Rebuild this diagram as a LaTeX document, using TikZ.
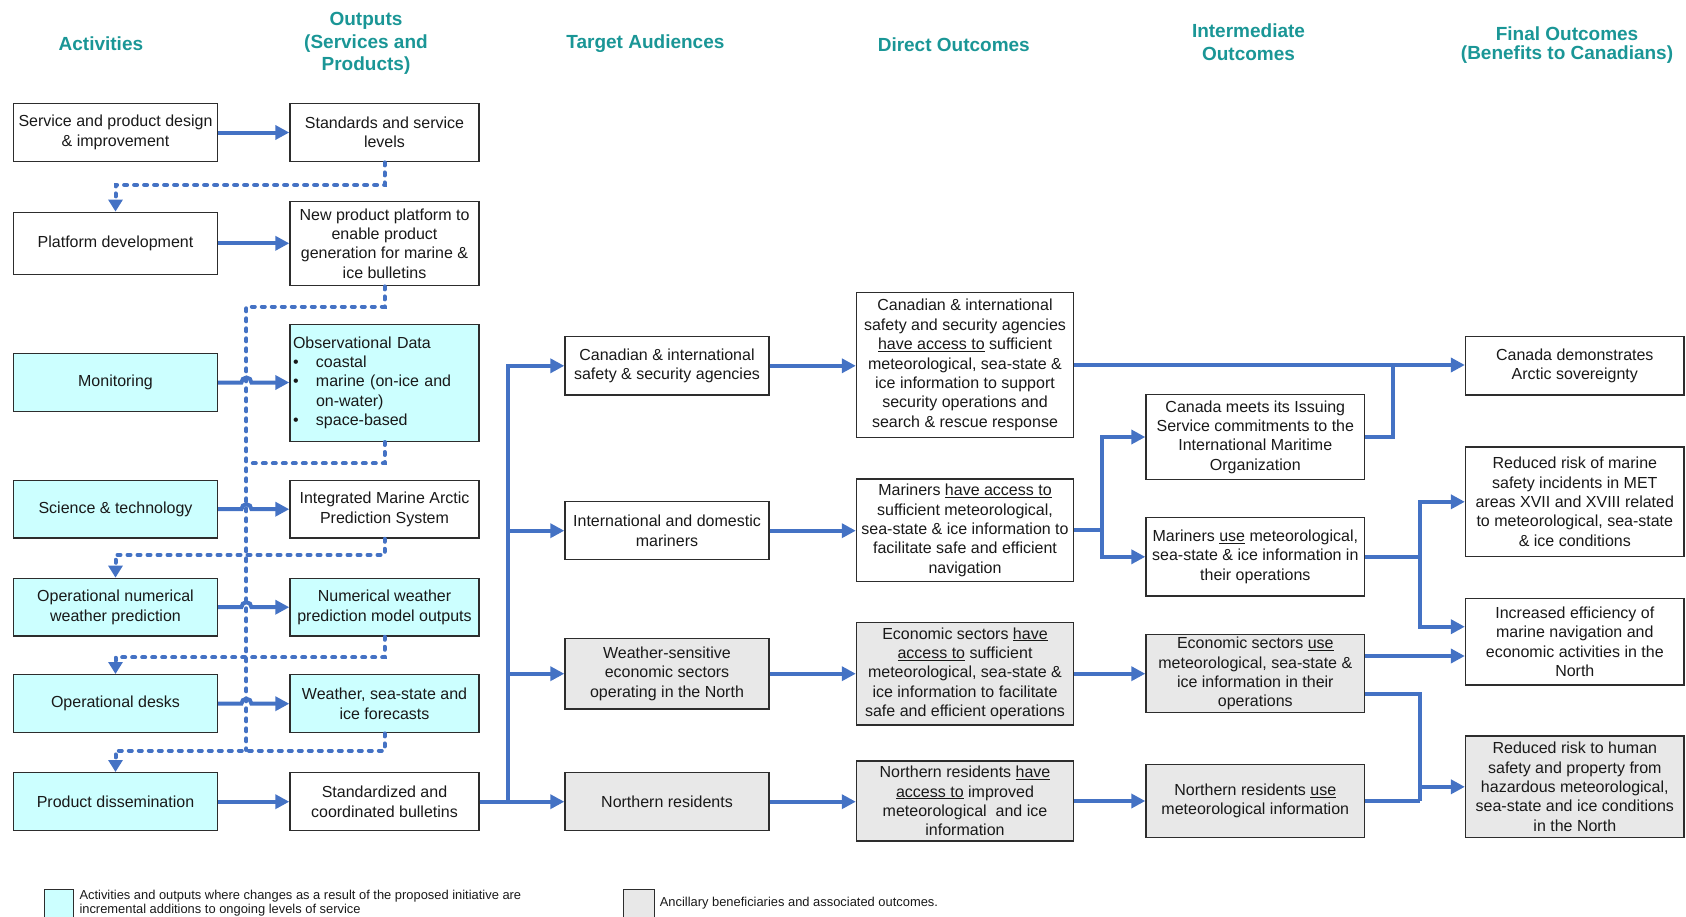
\documentclass[tikz,border=0pt]{standalone}
\usepackage{fontspec}
\setmainfont{Liberation Sans}
\usetikzlibrary{arrows.meta}
\definecolor{flowblue}{RGB}{68,114,196}
\definecolor{headteal}{RGB}{26,150,150}
\definecolor{newfill}{RGB}{204,255,255}
\definecolor{sidefill}{RGB}{232,232,232}
\definecolor{boxline}{RGB}{45,45,45}
\definecolor{bodytext}{RGB}{25,25,25}
\begin{document}
\begin{tikzpicture}[x=1pt,y=-1pt,
  box/.style={draw=boxline, line width=1.4pt, fill=white, text=bodytext, align=center,
    inner sep=2pt, font=\fontsize{16}{19.4}\selectfont},
  acol/.style={box, minimum width=204pt},
  ocol/.style={box, minimum width=189pt},
  tcol/.style={box, minimum width=204pt},
  dcol/.style={box, minimum width=217pt},
  icol/.style={box, minimum width=218.6pt},
  fcol/.style={box, minimum width=218.5pt},
  newwork/.style={fill=newfill},
  ancillary/.style={fill=sidefill},
  head/.style={text=headteal, align=center, font=\bfseries\fontsize{19}{22.6}\selectfont},
  flow/.style={draw=flowblue, line width=4pt, -{Triangle[length=14pt,width=14pt]}},
  flowline/.style={draw=flowblue, line width=4pt},
  dotline/.style={draw=flowblue, line width=4pt, dash pattern=on 3pt off 7pt, line cap=round},
  dotflow/.style={dotline, -{Triangle[length=12pt,width=14pt]}},
  keybox/.style={draw=boxline, line width=1.2pt, anchor=north west, inner sep=0pt},
  keytext/.style={text=bodytext, anchor=west, align=left, inner sep=2pt, font=\fontsize{12.9}{14.4}\selectfont}
]
\useasboundingbox (0,0) rectangle (1686,916);

% column headings
\node[head] (hact) at (100.9,43.3) {Activities};
\node[head] (hout) at (366,43.7) {Outputs\\(Services and\\Products)};
\node[head] (htar) at (645.4,43.3) {Target Audiences};
\node[head] (hdir) at (953.8,45) {Direct Outcomes};
\node[head] (hint) at (1248.5,42) {Intermediate\\Outcomes};
\node[head, font=\bfseries\fontsize{19}{19.4}\selectfont] (hfin) at (1567,45) {Final Outcomes\\(Benefits to Canadians)};

% activities
\node[acol, minimum height=58.4pt] (a1) at (115.5,132.5) {Service and product design\\\& improvement};
\node[acol, minimum height=62pt] (a2) at (115.5,243.3) {Platform development};
\node[acol, newwork, minimum height=58.4pt] (a3) at (115.5,382.5) {Monitoring};
\node[acol, newwork, minimum height=57.7pt] (a4) at (115.5,509.2) {Science \& technology};
\node[acol, newwork, minimum height=57.7pt] (a5) at (115.5,607.2) {Operational numerical\\weather prediction};
\node[acol, newwork, minimum height=58pt] (a6) at (115.5,703.7) {Operational desks};
\node[acol, newwork, minimum height=58pt] (a7) at (115.5,801.7) {Product dissemination};

% outputs
\node[ocol, minimum height=58.4pt] (o1) at (384.5,132.5) {Standards and service\\levels};
\node[ocol, minimum height=84.4pt] (o2) at (384.5,243.5) {New product platform to\\enable product\\generation for marine \&\\ice bulletins};
\node[ocol, newwork, minimum height=117pt, text width=183pt, inner xsep=3pt, align=left] (o3) at (384.5,382.8)
  {Observational Data\\
   \makebox[23pt][l]{\textbullet}coastal\\
   \makebox[23pt][l]{\textbullet}marine (on-ice and\\
   \hspace*{23pt}on-water)\\
   \makebox[23pt][l]{\textbullet}space-based};
\node[ocol, minimum height=57.7pt] (o4) at (384.5,509.2) {Integrated Marine Arctic\\Prediction System};
\node[ocol, newwork, minimum height=57.7pt] (o5) at (384.5,607.2) {Numerical weather\\prediction model outputs};
\node[ocol, newwork, minimum height=58pt] (o6) at (384.5,703.7) {Weather, sea-state and\\ice forecasts};
\node[ocol, minimum height=58pt] (o7) at (384.5,801.7) {Standardized and\\coordinated bulletins};

% target audiences
\node[tcol, minimum height=58.3pt] (t1) at (667,365.8) {Canadian \& international\\safety \& security agencies};
\node[tcol, minimum height=58pt] (t2) at (667,530.7) {International and domestic\\mariners};
\node[tcol, ancillary, minimum height=70.7pt] (t3) at (667,673.7) {Weather-sensitive\\economic sectors\\operating in the North};
\node[tcol, ancillary, minimum height=58pt] (t4) at (667,801.7) {Northern residents};

% direct outcomes
\node[dcol, minimum height=145.4pt] (d1) at (965,365) {Canadian \& international\\safety and security agencies\\\underline{have access to} sufficient\\meteorological, sea-state \&\\ice information to support\\security operations and\\search \& rescue response};
\node[dcol, minimum height=102.7pt] (d2) at (965,530.3) {Mariners \underline{have access to}\\sufficient meteorological,\\sea-state \& ice information to\\facilitate safe and efficient\\navigation};
\node[dcol, ancillary, minimum height=102.7pt] (d3) at (965,673.7) {Economic sectors \underline{have}\\\underline{access to} sufficient\\meteorological, sea-state \&\\ice information to facilitate\\safe and efficient operations};
\node[dcol, ancillary, minimum height=80pt] (d4) at (965,801) {Northern residents \underline{have}\\\underline{access to} improved\\meteorological\ \ and ice\\information};

% intermediate outcomes
\node[icol, minimum height=84.6pt] (i1) at (1255.3,437) {Canada meets its Issuing\\Service commitments to the\\International Maritime\\Organization};
\node[icol, minimum height=78.3pt] (i2) at (1255.3,556.8) {Mariners \underline{use} meteorological,\\sea-state \& ice information in\\their operations};
\node[icol, ancillary, minimum height=78pt] (i3) at (1255.3,673.7) {Economic sectors \underline{use}\\meteorological, sea-state \&\\ice information in their\\operations};
\node[icol, ancillary, minimum height=73.4pt] (i4) at (1255.3,801) {Northern residents \underline{use}\\meteorological information};

% final outcomes
\node[fcol, minimum height=58.3pt] (f1) at (1574.8,365.8) {Canada demonstrates\\Arctic sovereignty};
\node[fcol, minimum height=109.7pt] (f2) at (1574.8,501.8) {Reduced risk of marine\\safety incidents in MET\\areas XVII and XVIII related\\to meteorological, sea-state\\\& ice conditions};
\node[fcol, minimum height=86.7pt] (f3) at (1574.8,641.7) {Increased efficiency of\\marine navigation and\\economic activities in the\\North};
\node[fcol, ancillary, minimum height=101.7pt] (f4) at (1574.8,786.8) {Reduced risk to human\\safety and property from\\hazardous meteorological,\\sea-state and ice conditions\\in the North};

% feedback from outputs to the next activities (dotted)
\draw[dotflow] (o1.south) -- ++(0,22.6) -| (a2.north);
\draw[dotline] (o2.south) -- ++(0,20.3) -| (246.4,750);
\draw[dotline] (o3.south) |- (246.4,463.3);
\draw[dotflow] (o4.south) -- ++(0,16) -| (a5.north);
\draw[dotflow] (o5.south) -- ++(0,20.7) -| (a6.north);
\draw[dotflow] (o6.south) -- ++(0,17.3) -| (a7.north);

% activities to outputs (with hops over the dotted line)
\coordinate (hop) at (241.4,0);
\draw[flow] (a1.east) -- (a1.east -| o1.west);
\draw[flow] (a2.east) -- (a2.east -| o2.west);
\draw[flow] (a3.east) -- (a3.east -| hop) arc[start angle=180, end angle=0, radius=5pt] -- (a3.east -| o3.west);
\draw[flow] (a4.east) -- (a4.east -| hop) arc[start angle=180, end angle=0, radius=5pt] -- (a4.east -| o4.west);
\draw[flow] (a5.east) -- (a5.east -| hop) arc[start angle=180, end angle=0, radius=5pt] -- (a5.east -| o5.west);
\draw[flow] (a6.east) -- (a6.east -| hop) arc[start angle=180, end angle=0, radius=5pt] -- (a6.east -| o6.west);
\draw[flow] (a7.east) -- (a7.east -| o7.west);

% bulletins to the audiences
\coordinate (bus) at (508,801.7);
\draw[flow] (o7.east) -- (bus) |- (t1.west);
\draw[flow] (bus) |- (t2.west);
\draw[flow] (bus) |- (t3.west);
\draw[flow] (o7.east) -- (t4.west);

% audiences to direct outcomes
\draw[flow] (t1.east) -- (t1.east -| d1.west);
\draw[flow] (t2.east) -- (t2.east -| d2.west);
\draw[flow] (t3.east) -- (t3.east -| d3.west);
\draw[flow] (t4.east) -- (t4.east -| d4.west);

% direct to intermediate and final outcomes
\draw[flow] (d1.east) -- (d1.east -| f1.west);
\coordinate (k1) at (1393.4,365);
\draw[flowline] (i1.east) -| (k1);
\coordinate (k2) at (1102,530.3);
\draw[flowline] (d2.east) -- (k2);
\draw[flow] (k2) |- (i1.west);
\draw[flow] (k2) |- (i2.west);
\draw[flow] (d3.east) -- (d3.east -| i3.west);
\draw[flow] (d4.east) -- (d4.east -| i4.west);

% intermediate to final outcomes
\coordinate (k3) at (1420.3,556.8);
\coordinate (f3up) at ([yshift=15pt]f3.west);
\draw[flowline] (i2.east) -- (k3);
\draw[flow] (k3) |- (f2.west);
\draw[flow] (k3) |- (f3up);
\coordinate (e3) at ([yshift=17.7pt]i3.east);
\draw[flow] (e3) -- (e3 -| f3.west);
\coordinate (e3b) at ([yshift=-20.6pt]i3.east);
\coordinate (k4) at (1420.3,801);
\draw[flowline] (e3b) -| (k4);
\draw[flowline] (i4.east) -- (k4);
\draw[flow] (k4 |- f4.west) -- (f4.west);

% key
\node[keybox, fill=newfill, minimum width=28.9pt, minimum height=30pt] (key1) at (43.6,888.7) {};
\node[keytext] (keytext1) at (77.3,902.9) {Activities and outputs where changes as a result of the proposed initiative are\\incremental additions to ongoing levels of service};
\node[keybox, fill=sidefill, minimum width=30.4pt, minimum height=30pt] (key2) at (623.2,888.7) {};
\node[keytext] (keytext2) at (657.6,903.3) {Ancillary beneficiaries and associated outcomes.};
\end{tikzpicture}
\end{document}
